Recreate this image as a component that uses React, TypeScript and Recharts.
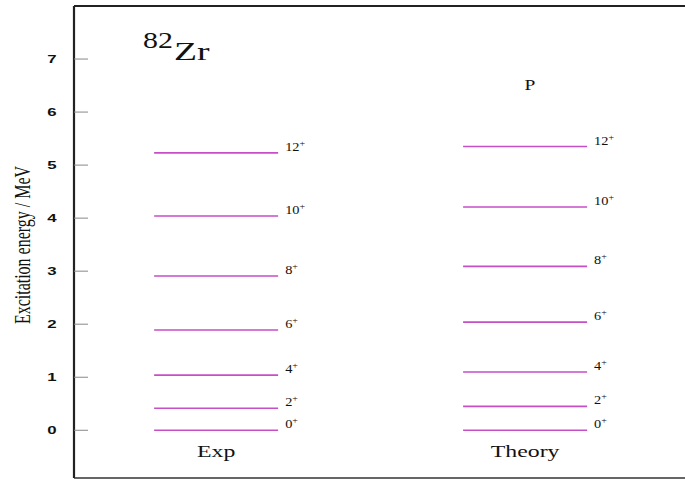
import { ScatterChart, Scatter, XAxis, YAxis, ReferenceLine, Customized } from 'recharts';

// level energies in MeV, ground state up to 12+
const spins = ['0', '2', '4', '6', '8', '10', '12'];
const expEnergies = [0, 0.415, 1.04, 1.89, 2.91, 4.04, 5.23];
const theoryEnergies = [0, 0.45, 1.1, 2.04, 3.09, 4.21, 5.35];
const columns = ['Exp', 'Theory'];
const energyTicks = [0, 1, 2, 3, 4, 5, 6, 7];

const expData = expEnergies.map((e, i) => ({ col: 0, energy: e, spin: spins[i] }));
const theoryData = theoryEnergies.map((e, i) => ({ col: 1, energy: e, spin: spins[i] }));

const SERIF = '"Liberation Serif", "Times New Roman", serif';
const SANS = '"Liberation Sans", Arial, sans-serif';
const LEVEL_COLOR = '#c64ec6';
const STRETCH = 1.4;

// text that is widened horizontally, like the old postscript output
const WideText = ({ x, y, size, anchor = 'start', sx = STRETCH, family = SERIF, weight = 'normal', children }: any) => (
  <text
    transform={`translate(${x},${y}) scale(${sx},1)`}
    fontSize={size}
    fontFamily={family}
    fontWeight={weight}
    textAnchor={anchor}
    fill="#111"
  >
    {children}
  </text>
);

// one level: a horizontal bar with its spin label at the right end
const Level = (props: any) => {
  const { cx, cy, payload } = props;
  if (cx == null || cy == null) return null;
  const half = 62;
  return (
    <g>
      <line x1={cx - half} x2={cx + half} y1={cy} y2={cy} stroke={LEVEL_COLOR} strokeWidth={1.6} />
      <WideText x={cx + half + 7} y={cy - 2} size={11.5} sx={1.25}>
        <tspan>{payload.spin}</tspan>
        <tspan dy={-5} fontSize={8}>+</tspan>
      </WideText>
    </g>
  );
};

const LeftTick = ({ x, y, payload }: any) => (
  <g>
    <line x1={x} x2={x + 14} y1={y} y2={y} stroke="#888" strokeWidth={1} />
    <WideText x={x - 22} y={y + 4} size={10.5} sx={1.6} anchor="middle" family={SANS} weight="bold">
      {payload.value}
    </WideText>
  </g>
);

const RightTick = ({ x, y }: any) => (
  <line x1={x - 14} x2={x} y1={y} y2={y} stroke="#888" strokeWidth={1} />
);

const ColumnTick = ({ x, y, payload }: any) => (
  <WideText x={x} y={y - 21} size={17} anchor="middle">
    {columns[payload.value]}
  </WideText>
);

const Annotations = () => (
  <g>
    <WideText x={143} y={48} size={23} sx={1.3}>82</WideText>
    <WideText x={174} y={60} size={26} sx={1.45}>Zr</WideText>
    <WideText x={530} y={90} size={15} sx={1.3} anchor="middle">P</WideText>
    <text
      transform="translate(30,245) scale(1.4,1) rotate(-90)"
      fontSize={16}
      fontFamily={SERIF}
      textAnchor="middle"
      fill="#111"
    >
      Excitation energy / MeV
    </text>
  </g>
);

export default function App() {
  return (
    <div style={{ position: 'absolute', left: 0, top: 0, width: 685, height: 479, overflow: 'hidden', background: '#fff' }}>
      <ScatterChart width={690} height={479} margin={{ top: 6, right: 3, bottom: 0, left: 0 }}>
        <XAxis
          type="number"
          dataKey="col"
          domain={[-0.46, 1.524]}
          ticks={[0, 1]}
          allowDataOverflow
          height={1}
          tickSize={0}
          tickMargin={0}
          tickLine={false}
          axisLine={{ stroke: '#666', strokeWidth: 2 }}
          tick={<ColumnTick />}
        />
        <YAxis
          yAxisId="left"
          type="number"
          dataKey="energy"
          domain={[-0.9, 8]}
          ticks={energyTicks}
          allowDataOverflow
          width={74}
          tickSize={0}
          tickMargin={0}
          tickLine={false}
          axisLine={{ stroke: '#222', strokeWidth: 2.2 }}
          tick={<LeftTick />}
        />
        <YAxis
          yAxisId="right"
          orientation="right"
          type="number"
          dataKey="energy"
          domain={[-0.9, 8]}
          ticks={energyTicks}
          allowDataOverflow
          width={0}
          tickSize={0}
          tickMargin={0}
          tickLine={false}
          axisLine={{ stroke: '#222', strokeWidth: 2 }}
          tick={<RightTick />}
        />
        <ReferenceLine yAxisId="left" y={8} stroke="#222" strokeWidth={2.2} />
        <Scatter yAxisId="left" data={expData} shape={<Level />} isAnimationActive={false} />
        <Scatter yAxisId="left" data={theoryData} shape={<Level />} isAnimationActive={false} />
        <Customized component={<Annotations />} />
      </ScatterChart>
    </div>
  );
}
